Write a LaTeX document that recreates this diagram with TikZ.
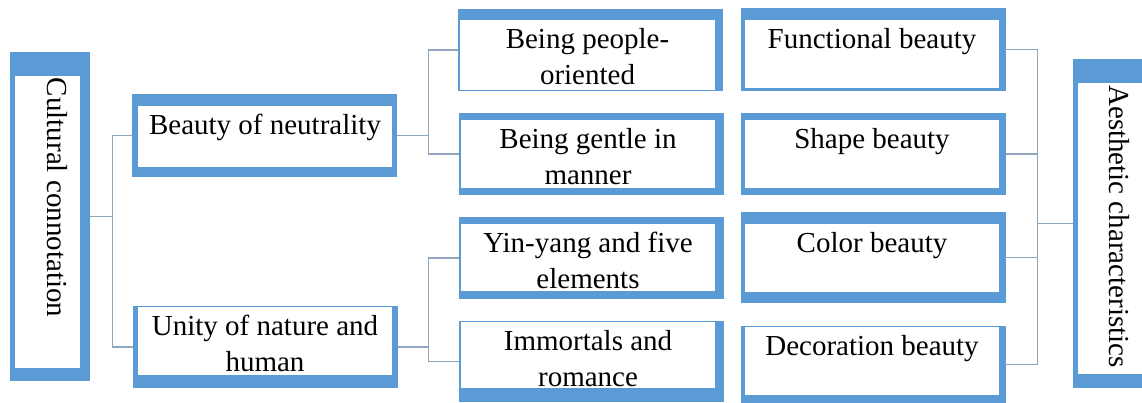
\documentclass[tikz,border=0pt]{standalone}
\usepackage{fontspec}
\setmainfont{Liberation Serif}
\usepackage{tikz}
\usetikzlibrary{positioning,fit}

\definecolor{frameblue}{HTML}{5B9BD5}
\definecolor{linkgray}{HTML}{8FA6BC}

\begin{document}
\begin{tikzpicture}[
    x=1pt, y=-1pt,
    frame/.style={fill=frameblue, inner sep=0pt},
    sheet/.style={fill=white, inner sep=0pt},
    label/.style={inner sep=0pt, align=center, font=\fontsize{29}{36}\selectfont},
    vlabel/.style={inner sep=0pt, font=\fontsize{29}{36}\selectfont, rotate=-90, anchor=base},
    link/.style={draw=linkgray, line width=1.2pt}
]
\useasboundingbox (0,0) rectangle (1142,403);

% left column
\node[frame, fit={(10,52) (90,381)}] (cult) {};
\node[sheet, fit={(15,76) (80,368)}] (cultw) {};
\node[vlabel] (cultt) at (47,197.5) {Cultural connotation};

\node[frame, fit={(132,94) (397,177)}] (neut) {};
\node[sheet, fit={(138,106) (392,167)}] (neutw) {};
\node[label, below=8pt of neutw.north] (neutt) {Beauty of neutrality};

\node[frame, fit={(133,306) (398,388)}] (unity) {};
\node[sheet, fit={(138,307) (392,375)}] (unityw) {};
\node[label, below=8pt of unityw.north] (unityt) {Unity of nature and\\human};

% middle column
\node[frame, fit={(458,9) (723,91)}] (people) {};
\node[sheet, fit={(460,20) (715,90)}] (peoplew) {};
\node[label, below=8pt of peoplew.north] (peoplet) {Being people-\\oriented};

\node[frame, fit={(459,113) (724,195)}] (gentle) {};
\node[sheet, fit={(461,120) (715,188)}] (gentlew) {};
\node[label, below=8pt of gentlew.north] (gentlet) {Being gentle in\\manner};

\node[frame, fit={(459,217) (724,299)}] (yin) {};
\node[sheet, fit={(461,224) (715,291)}] (yinw) {};
\node[label, below=8pt of yinw.north] (yint) {Yin-yang and five\\elements};

\node[frame, fit={(459,321) (724,402)}] (immort) {};
\node[sheet, fit={(461,322) (715,388)}] (immortw) {};
\node[label, below=8pt of immortw.north] (immortt) {Immortals and\\romance};

% right column
\node[frame, fit={(741,8) (1006,91)}] (func) {};
\node[sheet, fit={(745,20) (999,88)}] (funcw) {};
\node[label, below=8pt of funcw.north] (funct) {Functional beauty};

\node[frame, fit={(741,113) (1006,195)}] (shape) {};
\node[sheet, fit={(745,120) (999,188)}] (shapew) {};
\node[label, below=8pt of shapew.north] (shapet) {Shape beauty};

\node[frame, fit={(741,212) (1006,303)}] (color) {};
\node[sheet, fit={(745,224) (999,292)}] (colorw) {};
\node[label, below=8pt of colorw.north] (colort) {Color beauty};

\node[frame, fit={(741,326) (1006,403)}] (decor) {};
\node[sheet, fit={(745,327) (999,395)}] (decorw) {};
\node[label, below=8pt of decorw.north] (decort) {Decoration beauty};

\node[frame, fit={(1073,59) (1142,388)}] (aest) {};
\node[sheet, fit={(1078,83) (1142,374)}] (aestw) {};
\node[vlabel] (aestt) at (1109,226.5) {Aesthetic characteristics};

% connectors
\draw[link] (cult.east) -- ++(22,0) coordinate (hubL);
\draw[link] (neut.west) -| (hubL) |- (unity.west);

\draw[link] (neut.east) -- ++(31,0) coordinate (hubN);
\draw[link] (people.west) -| (hubN) |- (gentle.west);

\draw[link] (unity.east) -- ++(30,0) coordinate (hubU);
\draw[link] (yin.west) -| (hubU) |- (immort.west);

\draw[link] (aest.west) -- ++(-35,0) coordinate (hubR);
\draw[link] (func.east) -| (hubR) |- (decor.east);
\draw[link] (shape.east) -| (hubR);
\draw[link] (color.east) -| (hubR);
\end{tikzpicture}
\end{document}
